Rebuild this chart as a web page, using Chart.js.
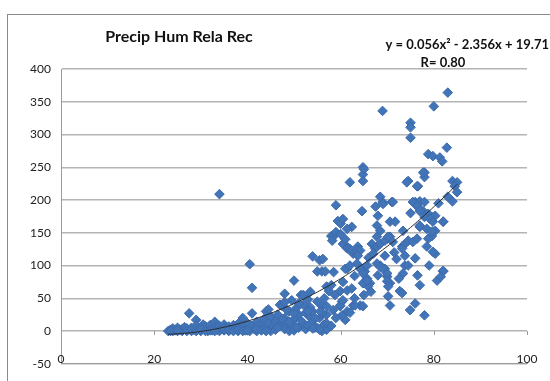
<!DOCTYPE html>
<html>
<head>
<meta charset="utf-8">
<script src="https://cdn.jsdelivr.net/npm/chart.js@4/dist/chart.umd.min.js"></script>
<style>
  html, body { margin: 0; padding: 0; background: #fff; }
  #wrap  { position: relative; width: 550px; height: 381px; overflow: hidden; }
  #frame { position: absolute; left: 7px; top: 14px; width: 600px; height: 420px; border: 1px solid #8a8a8a; }
  canvas { position: absolute; left: 0; top: 0; }
</style>
</head>
<body>
<div id="wrap">
  <div id="frame"></div>
  <canvas id="chart" width="550" height="381"></canvas>
</div>
<script>
// relative humidity (x) / precipitation (y)
const humidity = [
  // 23-45
  23, 23.5, 24, 24, 24.5, 25, 25, 25.5, 26, 26,
  26.5, 27, 27, 27.5, 28, 28, 28.5, 29, 29, 29.5,
  30, 30, 30.5, 31, 31, 31.5, 32, 32, 32.5, 33,
  33, 33.5, 34, 34, 34, 34.5, 35, 35, 35.5, 36,
  36, 36.5, 37, 37, 37.5, 38, 38, 38.5, 39, 39,
  39.5, 40, 40, 40.5, 40.5, 41, 41, 41, 41.5, 42,
  42, 42.5, 43, 43, 43.5, 44, 44, 44.5, 44.5, 45,
  45, 45.5, 23.5, 25, 27, 28, 29, 30, 31, 32,
  33, 35, 36, 37, 38, 39, 40, 42, 43, 44,
  // 45-57
  46, 46, 46.5, 47, 47, 47.5, 48, 48, 48, 48.5,
  49, 49, 49.5, 49.5, 50, 50, 50, 50.5, 51, 51,
  51.5, 52, 52, 52, 52.5, 53, 53, 53.5, 54, 54,
  54, 54.5, 55, 55, 55, 55.5, 55.5, 56, 56, 56,
  56.5, 57, 57, 57, 46.5, 47.5, 48.5, 49, 50.5, 51.5,
  52.5, 53, 53.5, 54.5, 55.5, 56, 56.5, 57, 48, 51,
  53, 55.6, 54, 50,
  // 57-66
  57.5, 58, 58, 58.4, 58.2, 59, 59, 59.4, 60, 60,
  60.5, 60.5, 61, 61.5, 61.4, 62, 62.7, 63.7, 62.4, 61.4,
  62, 64.6, 64.8, 64.8, 64.8, 62.4, 63.5, 64.2, 63.7, 61.4,
  63.5, 64.6, 65.2, 65.7, 66.3, 65.9, 56.2, 56.7, 61, 64.2,
  64.8, 65.7, 58.8, 59.9, 61.4, 62.4, 60.3, 59.9, 62.7, 64.2,
  61, 63.1, 64.8, 64.8, 57, 58.4, 59.9, 60.5, 61.4, 60.3,
  58, 59, 62, 63, 65, 60.5, 58.5, 62, 63, 66,
  // 66-75
  69, 65, 68.5, 69, 71, 68, 70.6, 68.5, 67.8, 66.7,
  67.4, 70, 70.6, 71.2, 73.2, 73.8, 68.5, 69.5, 70, 70.6,
  73.8, 73.4, 65.7, 70.2, 70.6, 72.7, 67.8, 68.5, 69.5, 70.2,
  67.8, 68.5, 69.1, 70, 70, 70.2, 73.2, 69.1, 71.2, 67.8,
  71.7, 73.4, 67, 72, 68, 71.5, 66.5, 72.5, 67.5, 69.5,
  // 74-86
  74.5, 76.6, 78, 78, 75, 75, 75, 80, 83, 82.8,
  78.8, 79.8, 81.3, 81.8, 77.7, 84, 85, 84.5, 85, 84,
  76, 77, 78, 76.6, 77.7, 78.8, 79.6, 80.3, 82, 77,
  80.3, 79.6, 78.8, 74.5, 75.5, 76.4, 73.2, 73.8, 78.5, 76,
  74.5, 80.3, 82, 80.7, 77, 76, 74.9, 78, 75.5, 76.4,
  77, 78, 79.2, 79.8, 77, 78.5, 79.6, 79.8, 82, 74.2,
  76.4, 82, 81.5, 83, 75, 81, 76.5, 79
];
const precip = [
  // 23-45
  0, 2, 0, 4, 1, 0, 5, 2, 0, 3,
  6, 1, 4, 27, 0, 5, 2, 17, 8, 3,
  0, 6, 10, 2, 7, 0, 4, 9, 1, 14,
  6, 2, 209, 0, 8, 4, 1, 10, 5, 0,
  7, 3, 9, 1, 5, 0, 11, 3, 20, 7,
  1, 4, 12, 102, 0, 66, 27, 8, 3, 14,
  0, 6, 10, 2, 18, 30, 5, 33, 12, 0,
  22, 8, 0, 1, 0, 2, 0, 3, 0, 1,
  0, 3, 2, 0, 2, 0, 1, 3, 1, 0,
  // 45-57
  2, 15, 25, 8, 40, 38, 3, 20, 57, 12,
  0, 30, 47, 9, 1, 77, 18, 35, 5, 25,
  55, 12, 40, 55, 3, 24, 48, 60, 15, 114,
  30, 5, 5, 91, 45, 108, 20, 0, 91, 38,
  10, 68, 25, 2, 5, 18, 32, 14, 6, 16,
  28, 8, 36, 20, 2, 28, 50, 12, 44, 42,
  30, 30, 4, 27,
  // 57-66
  61, 70, 145, 144, 138, 151, 192, 168, 148, 164,
  171, 133, 140, 128, 126, 125, 118, 129, 159, 156,
  227, 183, 250, 239, 229, 123, 123, 123, 115, 95,
  103, 95, 91, 80, 73, 68, 110, 91, 95, 95,
  88, 100, 55, 61, 62, 65, 45, 38, 39, 39,
  17, 39, 38, 73, 38, 32, 39, 47, 30, 24,
  8, 20, 28, 50, 55, 75, 90, 100, 84, 112,
  // 66-75
  336, 247, 205, 197, 197, 176, 167, 153, 144, 133,
  126, 141, 144, 136, 129, 133, 100, 95, 83, 73,
  100, 88, 77, 53, 39, 61, 129, 133, 138, 144,
  103, 98, 95, 88, 76, 68, 58, 194, 197, 161,
  167, 153, 118, 110, 85, 120, 60, 80, 190, 115,
  // 74-86
  229, 221, 242, 235, 318, 311, 295, 343, 364, 280,
  270, 267, 265, 259, 242, 229, 227, 221, 212, 198,
  197, 198, 197, 189, 183, 179, 174, 176, 167, 159,
  153, 145, 141, 138, 136, 141, 126, 115, 129, 111,
  100, 118, 91, 77, 70, 42, 32, 24, 197, 191,
  183, 174, 171, 167, 161, 156, 152, 121, 167, 227,
  221, 92, 83, 205, 180, 195, 85, 100
];

const xTicks = [0, 20, 40, 60, 80, 100];
const yTicks = [-50, 0, 50, 100, 150, 200, 250, 300, 350, 400];

// polynomial trendline as printed on the chart: c0 + c1*x + c2*x^2
const trendCoef  = [19.71, -2.356, 0.056];
const trendRange = [23, 85];

const chartTitle = 'Precip Hum Rela Rec';
const eqText = 'y = 0.056x\u00b2 - 2.356x + 19.71';
const rText  = 'R= 0.80';

const FONT = 'Lato, "Open Sans", sans-serif';

const overlay = {
  id: 'overlay',
  beforeDatasetsDraw(chart) {
    const { ctx, scales: { x, y } } = chart;
    const y0 = y.getPixelForValue(0);
    ctx.save();
    // small tick marks hanging under the zero line
    ctx.strokeStyle = '#9a9a9a';
    ctx.lineWidth = 1;
    ctx.beginPath();
    xTicks.forEach(t => {
      const px = Math.round(x.getPixelForValue(t)) + 0.5;
      ctx.moveTo(px, y0);
      ctx.lineTo(px, y0 + 4);
    });
    ctx.stroke();
    ctx.restore();
  },
  afterDatasetsDraw(chart) {
    const { ctx, scales: { x, y } } = chart;
    ctx.save();
    // trendline
    ctx.beginPath();
    for (let h = trendRange[0]; h <= trendRange[1]; h += 0.5) {
      const v = trendCoef[0] + trendCoef[1] * h + trendCoef[2] * h * h;
      const px = x.getPixelForValue(h), py = y.getPixelForValue(v);
      if (h === trendRange[0]) ctx.moveTo(px, py); else ctx.lineTo(px, py);
    }
    ctx.strokeStyle = '#2a2a2a';
    ctx.lineWidth = 1;
    ctx.stroke();

    // x labels sit just above the bottom (-50) gridline, like Excel's "low" labels
    ctx.fillStyle = '#222';
    ctx.font = '12px ' + FONT;
    ctx.textAlign = 'center';
    ctx.textBaseline = 'middle';
    xTicks.forEach(t => ctx.fillText(String(t), x.getPixelForValue(t), chart.chartArea.bottom - 5));

    // texts
    ctx.fillStyle = '#111';
    ctx.font = 'bold 16px ' + FONT;
    ctx.fillText(chartTitle, 179, 37);

    ctx.font = 'bold 13px ' + FONT;
    ctx.textAlign = 'right';
    ctx.fillText(eqText, 549, 45);
    ctx.textAlign = 'center';
    ctx.fillText(rText, 443, 63);
    ctx.restore();
  }
};

new Chart(document.getElementById('chart'), {
  type: 'scatter',
  data: {
    datasets: [{
      data: humidity.map((h, i) => ({ x: h, y: precip[i] })),
      pointStyle: 'rectRot',
      pointRadius: 4.8,
      backgroundColor: '#4274b8',
      borderColor: '#3c6aab',
      borderWidth: 1
    }]
  },
  options: {
    responsive: false,
    animation: false,
    layout: { padding: { top: 69, right: 23, left: 0, bottom: 15 } },
    plugins: { legend: { display: false }, tooltip: { enabled: false } },
    scales: {
      x: {
        type: 'linear',
        min: xTicks[0], max: xTicks[xTicks.length - 1],
        afterBuildTicks: s => { s.ticks = xTicks.map(v => ({ value: v })); },
        ticks: { display: false },
        grid: { display: false, drawTicks: false },
        border: { color: '#9a9a9a' }
      },
      y: {
        min: yTicks[0], max: yTicks[yTicks.length - 1],
        afterBuildTicks: s => { s.ticks = yTicks.map(v => ({ value: v })); },
        ticks: { padding: 10, color: '#222', font: { family: FONT, size: 12 } },
        grid: { color: '#b4b4b4', lineWidth: 1.5, drawTicks: false },
        border: { color: '#9a9a9a' },
        afterFit: s => { s.width = 61; }
      }
    }
  },
  plugins: [overlay]
});
</script>
</body>
</html>
